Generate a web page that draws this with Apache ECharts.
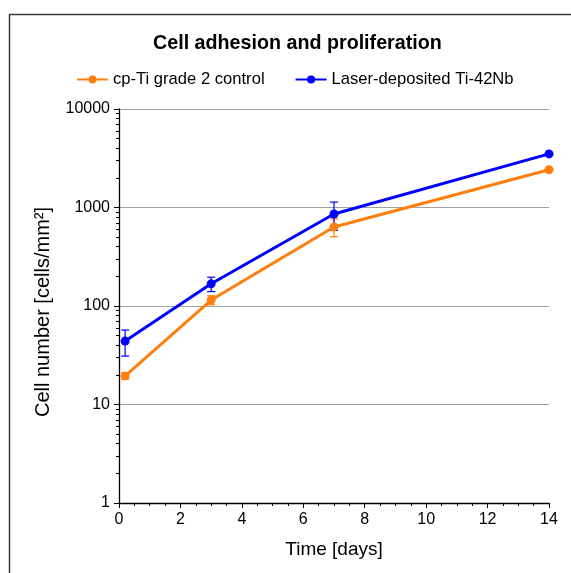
<!DOCTYPE html>
<html><head><meta charset="utf-8">
<script src="https://cdn.jsdelivr.net/npm/echarts@6/dist/echarts.min.js"></script>
<style>html,body{margin:0;padding:0;background:#fff}#c{width:571px;height:573px}</style>
</head><body><div id="c"></div>
<script>
const days = [0.2, 3, 7, 14];
const cpTi = [19.5, 115, 635, 2420];
const cpTiErr = [1.5, 12, 130, 0];
const tiNb = [44, 168, 860, 3500];
const tiNbErr = [13, 28, 275, 0];
const seriesNames = ['cp-Ti grade 2 control', 'Laser-deposited Ti-42Nb'];
const colors = ['#ff7f0e', '#0000ff'];
const minorVals = [];
[1, 10, 100, 1000].forEach(b => { for (let k = 2; k <= 9; k++) minorVals.push(b * k); });

const chart = echarts.init(document.getElementById('c'));
const font = 'Liberation Sans, Arial, sans-serif';

function errSeries(name, means, errs, color) {
  return {
    type: 'custom', name: name + ' err', silent: true, z: 3,
    data: days.map((d, i) => [d, means[i] - errs[i], means[i] + errs[i]]).filter((r, i) => errs[i] > 0),
    renderItem(params, api) {
      const lo = api.coord([api.value(0), api.value(1)]);
      const hi = api.coord([api.value(0), api.value(2)]);
      const w = 4;
      const st = { stroke: color, lineWidth: 1.2 };
      return { type: 'group', children: [
        { type: 'line', shape: { x1: lo[0], y1: lo[1], x2: hi[0], y2: hi[1] }, style: st },
        { type: 'line', shape: { x1: lo[0] - w, y1: lo[1], x2: lo[0] + w, y2: lo[1] }, style: st },
        { type: 'line', shape: { x1: hi[0] - w, y1: hi[1], x2: hi[0] + w, y2: hi[1] }, style: st }
      ]};
    }
  };
}

chart.setOption({
  animation: false,
  backgroundColor: '#fff',
  title: { text: 'Cell adhesion and proliferation', left: 148, top: 29,
    textStyle: { fontFamily: font, fontSize: 19.7, fontWeight: 'bold', color: '#000' } },
  legend: { top: 66, left: 71, itemWidth: 31, itemHeight: 10, itemGap: 30,
    data: seriesNames,
    textStyle: { fontFamily: font, fontSize: 16.6, color: '#000' } },
  grid: { left: 119, right: 22, top: 109, bottom: 70, containLabel: false },
  graphic: [{ type: 'rect', shape: { x: 9.5, y: 14.5, width: 700, height: 700 },
    style: { fill: 'none', stroke: '#3a3a3a', lineWidth: 1.5 }, z: -1 }],
  xAxis: {
    type: 'value', min: 0, max: 14, interval: 2,
    name: 'Time [days]', nameLocation: 'middle', nameGap: 37,
    nameTextStyle: { fontFamily: font, fontSize: 19, color: '#000' },
    axisLine: { onZero: false, lineStyle: { color: '#000', width: 1.3 } },
    axisTick: { show: true, length: 5, lineStyle: { color: '#000' } },
    minorTick: { show: true, splitNumber: 4, length: 3, lineStyle: { color: '#000' } },
    axisLabel: { fontFamily: font, fontSize: 16, color: '#000', margin: 9 },
    splitLine: { show: false }
  },
  yAxis: [{
    type: 'log', logBase: 10, min: 1, max: 10000,
    name: 'Cell number [cells/mm²]', nameLocation: 'middle', nameGap: 66,
    nameTextStyle: { fontFamily: font, fontSize: 20, color: '#000', padding: [0, 12, 0, 0] },
    axisLine: { show: true, lineStyle: { color: '#000', width: 1.3 } },
    axisTick: { show: true, length: 5, lineStyle: { color: '#000' } },
    axisLabel: { fontFamily: font, fontSize: 16, color: '#000', margin: 9, formatter: v => String(Math.round(v)) },
    splitLine: { show: true, lineStyle: { color: '#a0a0a0', width: 1.2 } }
  }, {
    type: 'log', logBase: 10, min: 1, max: 10000, position: 'left',
    axisLine: { show: false },
    axisTick: { show: true, length: 3, customValues: minorVals, lineStyle: { color: '#000' } },
    axisLabel: { show: false },
    splitLine: { show: false }
  }],
  series: [
    { type: 'line', name: seriesNames[0], data: days.map((d, i) => [d, cpTi[i]]), color: colors[0],
      symbol: 'circle', symbolSize: 9, lineStyle: { width: 3 }, z: 4 },
    { type: 'line', name: seriesNames[1], data: days.map((d, i) => [d, tiNb[i]]), color: colors[1],
      symbol: 'circle', symbolSize: 9, lineStyle: { width: 3 }, z: 5 },
    errSeries(seriesNames[0], cpTi, cpTiErr, colors[0]),
    errSeries(seriesNames[1], tiNb, tiNbErr, colors[1])
  ]
});
</script></body></html>
